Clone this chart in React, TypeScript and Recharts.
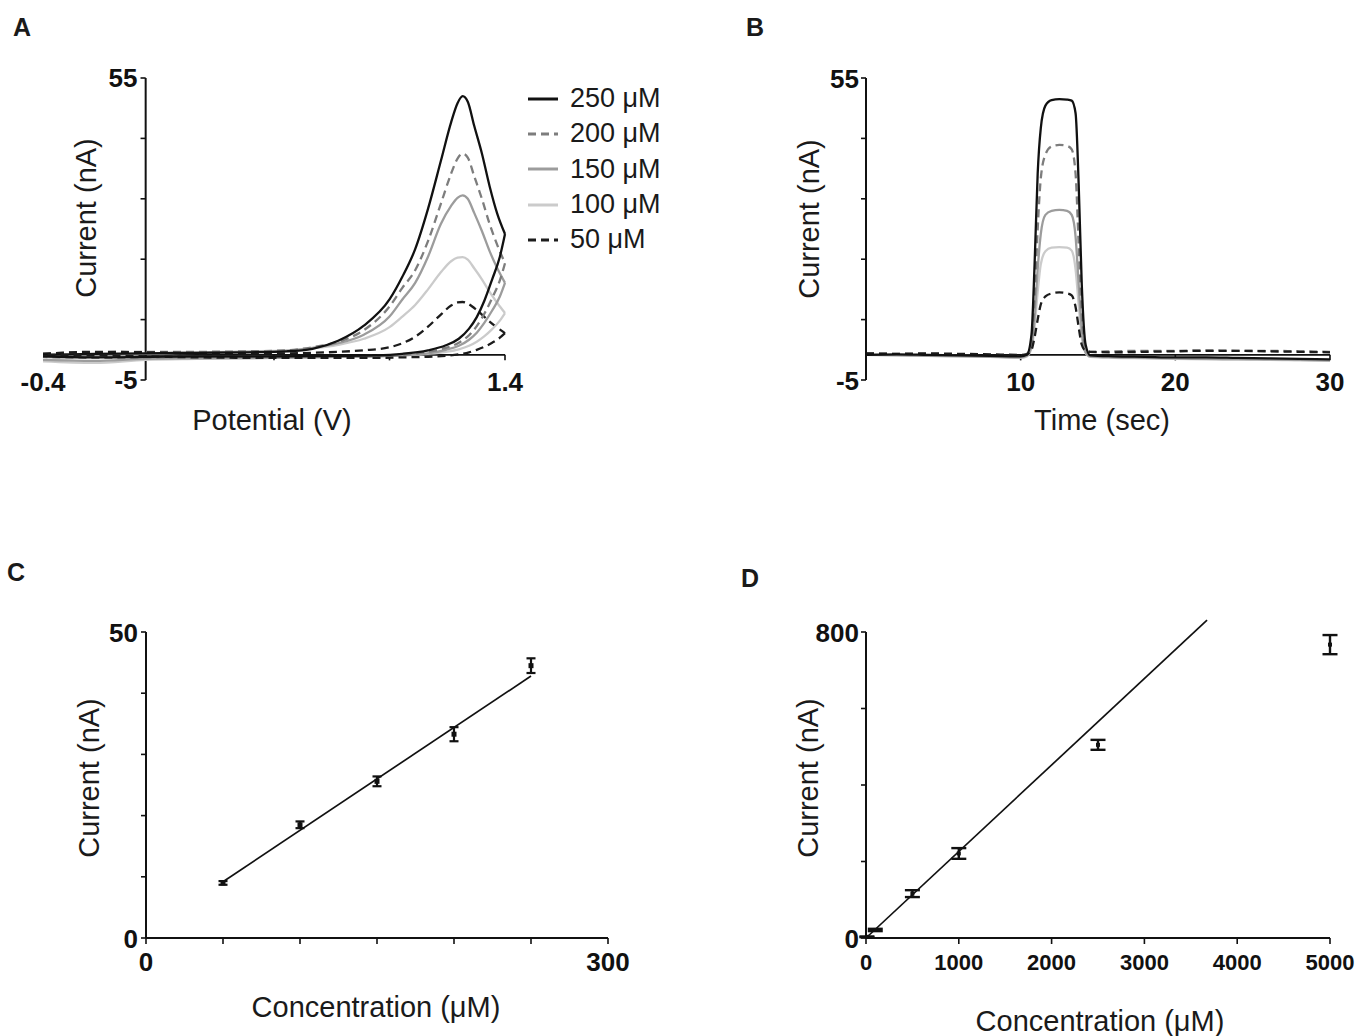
import React from 'react';
import {
  LineChart,
  Line,
  XAxis,
  YAxis,
  ReferenceLine,
  Legend,
  ComposedChart,
  Scatter,
  ErrorBar,
} from 'recharts';

const FONT = '"Liberation Sans", Arial, Helvetica, sans-serif';
const W = 1356;
const H = 1036;
const INK = '#111111';

// ---------- Panel A : cyclic voltammograms ----------
const cvPotentialForward = [-0.4, -0.2, 0, 0.2, 0.4, 0.55, 0.65, 0.75, 0.85, 0.95, 1.0, 1.05, 1.1, 1.15, 1.19, 1.215, 1.235, 1.255, 1.28, 1.31, 1.34, 1.37, 1.4];
const cvPotentialReverse = [1.38, 1.35, 1.32, 1.29, 1.26, 1.22, 1.17, 1.1, 1.0, 0.9, 0.75, 0.5, 0.2, 0, -0.2, -0.4];

const cv250 = [0.0, 0.2, 0.3, 0.4, 0.5, 0.7, 1.2, 2.8, 5.8, 11.0, 15.5, 21.0, 29.0, 38.5, 46.2, 50.0, 51.4, 50.3, 45.5, 40.0, 33.5, 28.0, 24.0,
  19.5, 15.0, 10.8, 7.5, 5.2, 3.2, 1.9, 0.9, 0.2, -0.1, -0.2, -0.3, -0.3, -0.4, -0.5, -0.3];
const cv200 = [0.3, 0.5, 0.6, 0.6, 0.7, 0.9, 1.5, 2.6, 4.9, 9.6, 13.3, 16.8, 22.6, 30.0, 36.0, 39.0, 40.0, 39.2, 35.5, 31.0, 26.0, 21.8, 18.2,
  14.8, 11.3, 8.2, 5.7, 3.9, 2.4, 1.4, 0.6, 0.0, -0.2, -0.3, -0.4, -0.4, -0.5, -0.6, -0.4];
const cv150 = [-0.4, -0.1, 0.2, 0.4, 0.6, 0.8, 1.4, 2.3, 4.0, 7.6, 11.0, 14.3, 19.5, 26.0, 29.6, 31.2, 31.7, 31.0, 28.2, 24.6, 20.6, 17.2, 14.3,
  11.6, 8.8, 6.4, 4.4, 3.0, 1.8, 1.0, 0.3, -0.1, -0.3, -0.4, -0.6, -0.7, -0.8, -1.2, -1.0];
const cv100 = [-1.0, -0.4, 0.2, 0.5, 0.7, 0.9, 1.3, 2.0, 3.2, 5.5, 7.6, 9.9, 13.0, 16.4, 18.6, 19.3, 19.4, 18.9, 17.2, 15.0, 12.5, 10.3, 8.3,
  6.8, 5.1, 3.7, 2.6, 1.8, 1.1, 0.6, 0.2, -0.1, -0.3, -0.4, -0.6, -0.8, -1.0, -1.6, -1.3];
const cv50 = [0.2, 0.6, 0.5, 0.3, 0.3, 0.3, 0.4, 0.6, 0.9, 1.5, 2.3, 3.6, 5.6, 8.0, 9.8, 10.4, 10.5, 10.2, 9.3, 8.0, 6.6, 5.4, 4.3,
  3.4, 2.4, 1.6, 1.0, 0.5, 0.1, -0.2, -0.4, -0.5, -0.6, -0.6, -0.6, -0.5, -0.3, -0.1, 0.0];

const seriesNames = ['250 μM', '200 μM', '150 μM', '100 μM', '50 μM'];
const seriesColors = ['#111111', '#7d7d7d', '#9c9c9c', '#cbcbcb', '#1c1c1c'];
const seriesDashes: (string | undefined)[] = [undefined, '8 5', undefined, undefined, '8 5'];
const drawOrder = [3, 2, 1, 4, 0];

const aYTicks = [-5, 7, 19, 31, 43, 55];
const aYLabeled = [-5, 55];
const aXTickMarks = [0.5, 0.95, 1.4];
const aXLabels = [-0.4, 1.4];

// ---------- Panel B : amperometric responses ----------
const timeSec = [0, 2, 4, 6, 8, 10, 10.4, 10.7, 10.9, 11.1, 11.3, 11.6, 12.0, 12.5, 13.0, 13.3, 13.55, 13.75, 13.95, 14.2, 14.5, 16, 18, 20, 22, 24, 26, 28, 30];
const amp250 = [0.0, 0.1, 0.0, -0.1, -0.2, -0.3, 0.0, 4.0, 18.0, 36.0, 45.0, 49.5, 50.6, 50.8, 50.7, 50.5, 48.0, 34.0, 14.0, 2.0, -0.1, -0.3, -0.4, -0.5, -0.5, -0.6, -0.7, -0.8, -0.9];
const amp200 = [0.3, 0.2, 0.2, 0.1, 0.0, -0.2, 0.2, 2.5, 11.0, 25.0, 35.0, 39.8, 41.4, 41.7, 41.5, 40.8, 36.0, 22.0, 8.0, 1.5, 0.6, 0.7, 0.8, 0.8, 0.9, 0.8, 0.8, 0.7, 0.6];
const amp150 = [0.0, -0.1, -0.2, -0.3, -0.4, -0.5, -0.2, 1.8, 7.5, 17.0, 24.0, 27.8, 28.6, 28.8, 28.6, 27.8, 23.5, 14.0, 5.0, 0.5, -0.3, -0.5, -0.6, -0.7, -0.8, -0.8, -0.9, -1.0, -1.1];
const amp100 = [0.1, 0.0, -0.1, -0.2, -0.3, -0.6, -0.3, 1.3, 5.5, 12.5, 18.0, 20.6, 21.3, 21.4, 21.3, 20.7, 17.0, 10.0, 3.5, 0.4, -0.4, -0.6, -0.7, -0.8, -0.9, -1.0, -1.0, -1.1, -1.2];
const amp50 = [0.3, 0.2, 0.3, 0.2, 0.1, 0.0, 0.1, 1.0, 3.5, 7.0, 10.0, 11.6, 12.2, 12.4, 12.2, 11.8, 9.5, 5.5, 2.0, 0.8, 0.6, 0.5, 0.6, 0.7, 0.8, 0.8, 0.7, 0.6, 0.5];
const bXTicks = [10, 20, 30];

// ---------- Panel C : calibration 50-250 µM ----------
const concC = [50, 100, 150, 200, 250];
const currC = [9.0, 18.5, 25.6, 33.3, 44.5];
const errC = [0.3, 0.55, 0.8, 1.15, 1.2];
const fitCx = [50, 250];
const fitCy = [9.2, 42.8];
const cXTicks = [0, 50, 100, 150, 200, 250, 300];
const cYTicks = [0, 10, 20, 30, 40, 50];

// ---------- Panel D : calibration up to 5000 µM ----------
const concD = [10, 100, 500, 1000, 2500, 5000];
const currD = [3, 21, 116, 221, 505, 767];
const errD = [1, 3, 9, 14, 13, 25];
const fitDx = [0, 3675];
const fitDy = [0, 831];
const dXTicks = [0, 1000, 2000, 3000, 4000, 5000];
const dYTicks = [0, 200, 400, 600, 800];

// ---------- derived tables ----------
const nFwd = cvPotentialForward.length;
const cvCurrents = [cv250, cv200, cv150, cv100, cv50];
const cvForward = cvCurrents.map((arr) => cvPotentialForward.map((v, i) => ({ x: v, y: arr[i] })));
const cvReverse = cvCurrents.map((arr) => [
  { x: cvPotentialForward[nFwd - 1], y: arr[nFwd - 1] },
  ...cvPotentialReverse.map((v, i) => ({ x: v, y: arr[nFwd + i] })),
]);
const ampCurrents = [amp250, amp200, amp150, amp100, amp50];
const ampData = ampCurrents.map((arr) => timeSec.map((t, i) => ({ x: t, y: arr[i] })));
const cData = concC.map((c, i) => ({ x: c, y: currC[i], err: errC[i] }));
const fitCData = fitCx.map((x, i) => ({ x, y: fitCy[i] }));
const dData = concD.map((c, i) => ({ x: c, y: currD[i], err: errD[i] }));

function tickRenderer(opts: { size: number; anchor: 'start' | 'middle' | 'end'; show?: number[]; dx?: number; dy?: number }) {
  return (props: any) => {
    const { x, y, payload } = props;
    const v = payload?.value;
    if (opts.show && !opts.show.includes(v)) return <g />;
    return (
      <text
        x={x + (opts.dx ?? 0)}
        y={y + (opts.dy ?? 0)}
        textAnchor={opts.anchor}
        dominantBaseline="central"
        fontFamily={FONT}
        fontWeight={700}
        fontSize={opts.size}
        fill={INK}
      >
        {String(v)}
      </text>
    );
  };
}

const squareShape = (size: number) => (props: any) => {
  const { cx, cy } = props;
  if (cx == null || cy == null) return <g />;
  return <rect x={cx - size / 2} y={cy - size / 2} width={size} height={size} fill={INK} />;
};

const renderLegend = (props: any) => {
  const seen = new Set<string>();
  const payload = [...(props.payload || [])]
    .filter((e: any) => {
      if (!seriesNames.includes(e.value) || seen.has(e.value)) return false;
      seen.add(e.value);
      return true;
    })
    .sort((a: any, b: any) => seriesNames.indexOf(a.value) - seriesNames.indexOf(b.value));
  return (
    <div style={{ fontFamily: FONT, fontSize: 27, color: '#1a1a1a' }}>
      {payload.map((e: any) => {
        const idx = seriesNames.indexOf(e.value);
        return (
          <div key={e.value} style={{ display: 'flex', alignItems: 'center', height: 35.3 }}>
            <svg width={30} height={10} style={{ display: 'block' }}>
              <line x1={0} y1={5} x2={30} y2={5} stroke={seriesColors[idx]} strokeWidth={3} strokeDasharray={seriesDashes[idx]} />
            </svg>
            <span style={{ marginLeft: 12, lineHeight: 1 }}>{e.value}</span>
          </div>
        );
      })}
    </div>
  );
};

const Title = ({ x, y, rotate, bold, size, children }: any) => (
  <div
    style={{
      position: 'absolute',
      left: x,
      top: y,
      transform: `translate(-50%, -50%)${rotate ? ' rotate(-90deg)' : ''}`,
      fontFamily: FONT,
      fontSize: size ?? 29,
      fontWeight: bold ? 700 : 400,
      color: '#1a1a1a',
      whiteSpace: 'nowrap',
      lineHeight: 1,
    }}
  >
    {children}
  </div>
);

const axisLineStyle = { stroke: INK, strokeWidth: 2 };
const tickLineStyle = { stroke: INK, strokeWidth: 1.6 };

const Layer = ({ children }: any) => (
  <div style={{ position: 'absolute', left: 0, top: 0 }}>{children}</div>
);

export default function App() {
  return (
    <div style={{ position: 'absolute', left: 0, top: 0, width: W, height: H, background: '#ffffff', overflow: 'hidden' }}>
      {/* Panel A */}
      <Layer>
        <LineChart width={W} height={H} margin={{ top: 78, left: 43, right: W - 505, bottom: H - 380 - 30 }}>
          <XAxis
            type="number"
            dataKey="x"
            domain={[-0.4, 1.4]}
            ticks={aXLabels}
            interval={0}
            axisLine={false}
            tickLine={false}
            tickSize={0}
            tickMargin={0}
            height={30}
            tick={tickRenderer({ size: 26, anchor: 'middle', dy: 2 })}
          />
          <YAxis type="number" dataKey="y" domain={[-5, 55]} hide />
          <ReferenceLine segment={[{ x: 0, y: -5 }, { x: 0, y: 55 }]} stroke={INK} strokeWidth={2} ifOverflow="visible" />
          <ReferenceLine segment={[{ x: -0.4, y: 0 }, { x: 1.4, y: 0 }]} stroke={INK} strokeWidth={1.6} ifOverflow="visible" />
          {aYTicks.map((t) => (
            <ReferenceLine
              key={`ay${t}`}
              segment={[{ x: -0.02, y: t }, { x: 0, y: t }]}
              stroke={INK}
              strokeWidth={1.6}
              ifOverflow="visible"
              label={
                aYLabeled.includes(t)
                  ? { value: String(t), position: 'left', offset: 3, fontSize: 26, fontWeight: 700, fontFamily: FONT, fill: INK }
                  : undefined
              }
            />
          ))}
          {aXTickMarks.map((t) => (
            <ReferenceLine key={`ax${t}`} segment={[{ x: t, y: 0 }, { x: t, y: -1.1 }]} stroke={INK} strokeWidth={1.6} ifOverflow="visible" />
          ))}
          {drawOrder.map((i) => (
            <Line
              key={`f${i}`}
              data={cvForward[i]}
              dataKey="y"
              name={seriesNames[i]}
              type="monotone"
              stroke={seriesColors[i]}
              strokeWidth={2.3}
              strokeDasharray={seriesDashes[i]}
              dot={false}
              isAnimationActive={false}
            />
          ))}
          {drawOrder.map((i) => (
            <Line
              key={`r${i}`}
              data={cvReverse[i]}
              dataKey="y"
              name={`${seriesNames[i]} (reverse scan)`}
              legendType="none"
              type="monotone"
              stroke={seriesColors[i]}
              strokeWidth={2.3}
              strokeDasharray={seriesDashes[i]}
              dot={false}
              isAnimationActive={false}
            />
          ))}
          <Legend
            layout="horizontal"
            verticalAlign="middle"
            align="center"
            wrapperStyle={{ left: 528, top: 81, width: 190, height: 180 }}
            content={renderLegend}
          />
        </LineChart>
      </Layer>

      {/* Panel B */}
      <Layer>
        <LineChart width={W} height={H} margin={{ top: 78, left: 806, right: W - 1330, bottom: H - 380 - 30 }}>
          <XAxis
            type="number"
            dataKey="x"
            domain={[0, 30]}
            ticks={bXTicks}
            interval={0}
            axisLine={false}
            tickLine={false}
            tickSize={0}
            tickMargin={0}
            height={30}
            tick={tickRenderer({ size: 26, anchor: 'middle', dy: 2 })}
          />
          <YAxis
            type="number"
            dataKey="y"
            domain={[-5, 55]}
            ticks={aYTicks}
            interval={0}
            width={60}
            axisLine={axisLineStyle}
            tickLine={tickLineStyle}
            tickSize={5}
            tickMargin={2}
            tick={tickRenderer({ size: 26, anchor: 'end', show: aYLabeled, dy: 1 })}
          />
          <ReferenceLine segment={[{ x: 0, y: 0 }, { x: 30, y: 0 }]} stroke={INK} strokeWidth={1.6} ifOverflow="visible" />
          {bXTicks.map((t) => (
            <ReferenceLine key={`bx${t}`} segment={[{ x: t, y: 0 }, { x: t, y: -1.1 }]} stroke={INK} strokeWidth={1.6} ifOverflow="visible" />
          ))}
          {drawOrder.map((i) => (
            <Line
              key={seriesNames[i]}
              data={ampData[i]}
              dataKey="y"
              name={seriesNames[i]}
              type="monotone"
              stroke={seriesColors[i]}
              strokeWidth={2.3}
              strokeDasharray={seriesDashes[i]}
              dot={false}
              isAnimationActive={false}
            />
          ))}
        </LineChart>
      </Layer>

      {/* Panel C */}
      <Layer>
        <ComposedChart width={W} height={H} margin={{ top: 632, left: 86, right: W - 608, bottom: H - 938 - 30 }}>
          <XAxis
            type="number"
            dataKey="x"
            domain={[0, 300]}
            ticks={cXTicks}
            interval={0}
            axisLine={axisLineStyle}
            tickLine={tickLineStyle}
            tickSize={6}
            tickMargin={0}
            height={30}
            tick={tickRenderer({ size: 26, anchor: 'middle', show: [0, 300], dy: 18 })}
          />
          <YAxis
            type="number"
            dataKey="y"
            domain={[0, 50]}
            ticks={cYTicks}
            interval={0}
            width={60}
            axisLine={axisLineStyle}
            tickLine={tickLineStyle}
            tickSize={5}
            tickMargin={3}
            tick={tickRenderer({ size: 26, anchor: 'end', show: [0, 50], dy: 1 })}
          />
          <Line data={fitCData} dataKey="y" type="linear" stroke={INK} strokeWidth={1.7} dot={false} isAnimationActive={false} />
          <Scatter data={cData} dataKey="y" fill={INK} shape={squareShape(5)} isAnimationActive={false}>
            <ErrorBar dataKey="err" direction="y" width={4.5} stroke={INK} strokeWidth={2.2} />
          </Scatter>
        </ComposedChart>
      </Layer>

      {/* Panel D */}
      <Layer>
        <ComposedChart width={W} height={H} margin={{ top: 632, left: 806, right: W - 1330, bottom: H - 938 - 30 }}>
          <XAxis
            type="number"
            dataKey="x"
            domain={[0, 5000]}
            ticks={dXTicks}
            interval={0}
            axisLine={axisLineStyle}
            tickLine={tickLineStyle}
            tickSize={6}
            tickMargin={0}
            height={30}
            tick={tickRenderer({ size: 22, anchor: 'middle', dy: 18 })}
          />
          <YAxis
            type="number"
            dataKey="y"
            domain={[0, 800]}
            ticks={dYTicks}
            interval={0}
            width={60}
            axisLine={axisLineStyle}
            tickLine={tickLineStyle}
            tickSize={5}
            tickMargin={2}
            tick={tickRenderer({ size: 26, anchor: 'end', show: [0, 800], dy: 1 })}
          />
          <ReferenceLine
            segment={[{ x: fitDx[0], y: fitDy[0] }, { x: fitDx[1], y: fitDy[1] }]}
            stroke={INK}
            strokeWidth={1.7}
            ifOverflow="visible"
          />
          <Scatter data={dData} dataKey="y" fill={INK} shape={squareShape(4)} isAnimationActive={false}>
            <ErrorBar dataKey="err" direction="y" width={7.5} stroke={INK} strokeWidth={2.4} />
          </Scatter>
        </ComposedChart>
      </Layer>

      {/* panel letters and axis titles */}
      <Title x={22} y={27} bold size={25}>A</Title>
      <Title x={755} y={27} bold size={25}>B</Title>
      <Title x={16} y={572} bold size={25}>C</Title>
      <Title x={750} y={578} bold size={25}>D</Title>

      <Title x={86} y={218} rotate>Current (nA)</Title>
      <Title x={272} y={420}>Potential (V)</Title>
      <Title x={809} y={219} rotate>Current (nA)</Title>
      <Title x={1102} y={420}>Time (sec)</Title>
      <Title x={89} y={778} rotate>Current (nA)</Title>
      <Title x={376} y={1007}>Concentration (μM)</Title>
      <Title x={808} y={778} rotate>Current (nA)</Title>
      <Title x={1100} y={1021}>Concentration (μM)</Title>
    </div>
  );
}
